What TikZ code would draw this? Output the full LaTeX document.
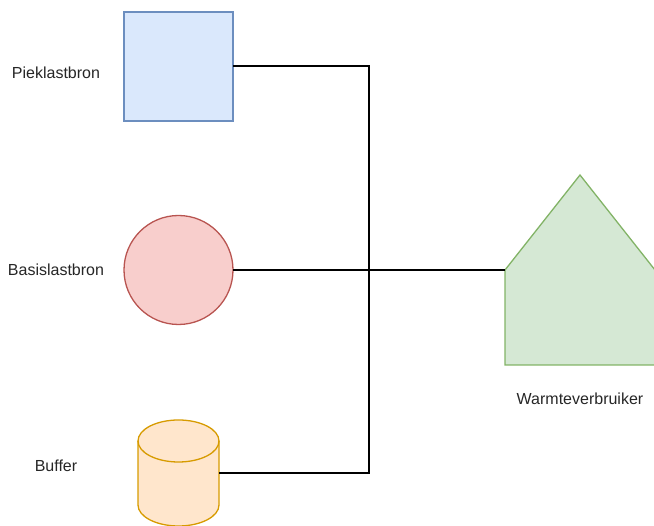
\documentclass[tikz,border=0pt]{standalone}
\usepackage{fontspec}
\setmainfont{Liberation Sans}
\usetikzlibrary{positioning}

\definecolor{blueFill}{HTML}{DAE8FC}
\definecolor{blueLine}{HTML}{6C8EBF}
\definecolor{redFill}{HTML}{F8CECC}
\definecolor{redLine}{HTML}{B85450}
\definecolor{orangeFill}{HTML}{FFE6CC}
\definecolor{orangeLine}{HTML}{D79B00}
\definecolor{greenFill}{HTML}{D5E8D4}
\definecolor{greenLine}{HTML}{82B366}

\begin{document}
\begin{tikzpicture}[
            x = 1pt, y = 1pt, % one unit is one pixel of the drawing
            line width = 2pt,
            font = \fontsize{16}{19}\selectfont
        ]

        \tikzstyle{every node}=[inner sep = 0pt, outer sep = 0pt]
        \tikzstyle{shapeline}=[line width = 1.3pt]
        \tikzstyle{label}=[text = black!85]

        \useasboundingbox (0,0) rectangle (654,526);

        % sources
        \node[rectangle, draw = blueLine, fill = blueFill, shapeline,
              minimum size = 109pt]                   (piek)   at ( 178.5 , 459.5 ) {};
        \node[circle, draw = redLine, fill = redFill, shapeline,
              minimum size = 109pt]                   (basis)  at ( 178.5 , 256 ) {};
        \node[rectangle, minimum width = 81pt,
              minimum height = 106pt]                 (buffer) at ( 178.5 , 53 ) {};
        \node[rectangle, minimum width = 150pt,
              minimum height = 190pt]                 (house)  at ( 580 , 256 ) {};

        % buffer as a cylinder
        \path[draw = orangeLine, fill = orangeFill, shapeline]
            (138,85) -- (138,21) arc (180:360:40.5 and 21) -- (219,85)
            arc (0:180:40.5 and 21) -- cycle;
        \draw[orangeLine, shapeline] (138,85) arc (180:360:40.5 and 21);

        % consumer as a house
        \path[draw = greenLine, fill = greenFill, shapeline]
            (house.south west) -- (house.south east) -- (house.east)
            -- (house.north) -- (house.west) -- cycle;

        % labels
        \node[label] (piekText)   at (  56 , 453 ) {Pieklastbron};
        \node[label] (basisText)  at (  56 , 256 ) {Basislastbron};
        \node[label] (bufferText) at (  56 ,  60 ) {Buffer};
        \node[label] (houseText)  at ( 580 , 127 ) {Warmteverbruiker};

        % pipes
        \draw (piek.east)   -| (369,256) -- (house.west);
        \draw (basis.east)  -- (house.west);
        \draw (buffer.east) -| (369,256);

    \end{tikzpicture}
\end{document}
